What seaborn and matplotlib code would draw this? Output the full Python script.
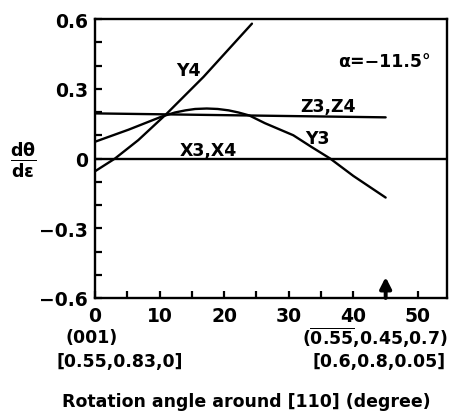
import numpy as np
import pandas as pd
import matplotlib
matplotlib.use("Agg")
import matplotlib.pyplot as plt
import seaborn as sns

# ---- data ----
y3_x = [0, 5.2, 10.3, 12.4, 14.0, 15.5, 17.3, 19.0, 20.7, 22.2, 23.9, 26.3, 30.7, 33.5, 36.4, 40, 45]
y3_y = [0.072, 0.124, 0.18, 0.198, 0.207, 0.213, 0.215, 0.213, 0.207, 0.198, 0.185, 0.152, 0.10, 0.05, 0.0, -0.075, -0.168]
y4_x = [0, 3.1, 6.7, 11.0, 16.8, 24.3]
y4_y = [-0.055, 0.0, 0.079, 0.19, 0.351, 0.58]
z_x = [0, 45]
z_y = [0.194, 0.177]
x_x = [0, 55]
x_y = [0.0, 0.0]

curve_labels = ["Y4", "Z3,Z4", "Y3", "X3,X4"]
xticks_major = [0, 10, 20, 30, 40, 50]
yticks_major = [-0.6, -0.3, 0, 0.3, 0.6]
ytick_labels = ["\u22120.6", "\u22120.3", "0", "0.3", "0.6"]
marker_angle = 45

sns.set_theme(style="ticks")
plt.rcParams["font.family"] = ["DejaVu Sans"]
plt.rcParams["font.weight"] = "bold"
plt.rcParams["text.color"] = "black"
plt.rcParams["xtick.color"] = "black"
plt.rcParams["ytick.color"] = "black"
plt.rcParams["axes.labelcolor"] = "black"
plt.rcParams["mathtext.fontset"] = "custom"
plt.rcParams["mathtext.rm"] = "DejaVu Sans:bold"
plt.rcParams["mathtext.it"] = "DejaVu Sans:bold"
plt.rcParams["mathtext.bf"] = "DejaVu Sans:bold"

fig = plt.figure(figsize=(4.53, 4.14), dpi=100)
ax = fig.add_axes([95/453, 115/414, 352/453, 279/414])

frames = {
    "Y3": pd.DataFrame({"x": y3_x, "y": y3_y}),
    "Y4": pd.DataFrame({"x": y4_x, "y": y4_y}),
    "Z": pd.DataFrame({"x": z_x, "y": z_y}),
    "X": pd.DataFrame({"x": x_x, "y": x_y}),
}
for key, df in frames.items():
    sns.lineplot(data=df, x="x", y="y", ax=ax, color="black", lw=1.7,
                 sort=False, estimator=None)

ax.set_xlim(0, 54.5)
ax.set_ylim(-0.6, 0.6)
ax.set_xticks(xticks_major)
ax.set_xticks(np.arange(5, 55, 10), minor=True)
ax.set_yticks(yticks_major)
ax.set_yticklabels(ytick_labels)
ax.set_yticks([-0.5, -0.4, -0.2, -0.1, 0.1, 0.2, 0.4, 0.5], minor=True)
ax.tick_params(which="both", direction="in", length=5, width=1.6,
               labelsize=13.5, pad=5, colors="black")
ax.tick_params(axis="x", pad=6)
for lab in ax.get_xticklabels() + ax.get_yticklabels():
    lab.set_fontweight("bold")
for sp in ax.spines.values():
    sp.set_visible(True)
    sp.set_linewidth(1.7)
    sp.set_color("black")
ax.set_xlabel("")
ax.set_ylabel("")

fs = 12.5
ax.text(14.4, 0.38, curve_labels[0], ha="center", va="center", fontsize=fs, fontweight="bold")
ax.text(36.1, 0.224, curve_labels[1], ha="center", va="center", fontsize=fs, fontweight="bold")
ax.text(34.4, 0.088, curve_labels[2], ha="center", va="center", fontsize=fs, fontweight="bold")
ax.text(17.5, 0.038, curve_labels[3], ha="center", va="center", fontsize=fs, fontweight="bold")
ax.text(52.0, 0.42, "\u03b1=\u221211.5\u00b0", ha="right", va="center", fontsize=fs, fontweight="bold")

ax.annotate("", xy=(marker_angle, -0.51), xytext=(marker_angle, -0.6),
            arrowprops=dict(arrowstyle="-|>,head_length=0.55,head_width=0.28",
                            color="black", lw=2.8, shrinkA=0, shrinkB=0))

def fy(py):
    return 1 - py / 414

fig.text(92/453, fy(338), "(001)", ha="center", va="center", fontsize=fs, fontweight="bold")
fig.text(120/453, fy(362), "[0.55,0.83,0]", ha="center", va="center", fontsize=fs, fontweight="bold")
fig.text(448/453, fy(338), r"($\overline{\mathbf{0.55}}$,0.45,0.7)", ha="right", va="center", fontsize=fs, fontweight="bold")
fig.text(446/453, fy(362), "[0.6,0.8,0.05]", ha="right", va="center", fontsize=fs, fontweight="bold")
fig.text(246/453, fy(402), "Rotation angle around [110] (degree)", ha="center", va="center", fontsize=fs, fontweight="bold")
fig.text(23/453, fy(160), r"$\frac{d\theta}{d\varepsilon}$", ha="center", va="center", fontsize=18)

fig.savefig("out.png", dpi=100)
